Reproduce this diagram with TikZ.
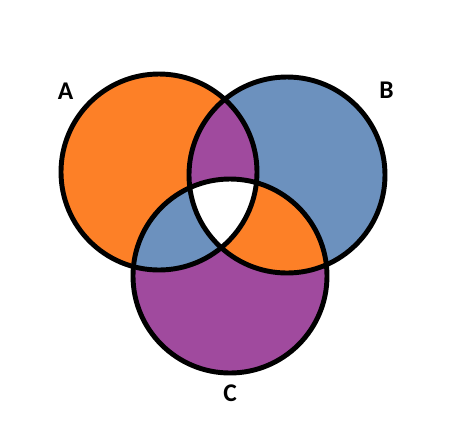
\documentclass[tikz,border=0pt]{standalone}
\usepackage{fontspec}
\setmainfont{Carlito}
\usepackage{xcolor}
\definecolor{vennorange}{RGB}{253,128,39}
\definecolor{vennblue}{RGB}{108,145,190}
\definecolor{vennpurple}{RGB}{160,74,158}

\begin{document}
\begin{tikzpicture}[x=0.02cm, y=-0.02cm,
    setlabel/.style={font=\bfseries\fontsize{14.5}{17}\selectfont, inner sep=0pt},
    rim/.style={line width=2.8pt, draw=black}]
\useasboundingbox (0,0) rectangle (457,441);
\coordinate (ca) at (159,172);
\coordinate (cb) at (287,175);
\coordinate (cc) at (230,276);
% single sets
\fill[vennorange] (ca) circle (98);
\fill[vennblue] (cb) circle (98);
\fill[vennpurple] (cc) circle (97);
% pairwise overlaps
\begin{scope}
  \clip (ca) circle (98);
  \fill[vennpurple] (cb) circle (98);
  \fill[vennblue] (cc) circle (97);
\end{scope}
\begin{scope}
  \clip (cb) circle (98);
  \fill[vennorange] (cc) circle (97);
\end{scope}
% all three
\begin{scope}
  \clip (ca) circle (98);
  \clip (cb) circle (98);
  \fill[white] (cc) circle (97);
\end{scope}
\draw[rim] (ca) circle (98);
\draw[rim] (cb) circle (98);
\draw[rim] (cc) circle (97);
\node[setlabel] (la) at (65.5,91.5) {A};
\node[setlabel] (lb) at (386.5,90.5) {B};
\node[setlabel] (lc) at (230,393) {C};
\end{tikzpicture}
\end{document}
